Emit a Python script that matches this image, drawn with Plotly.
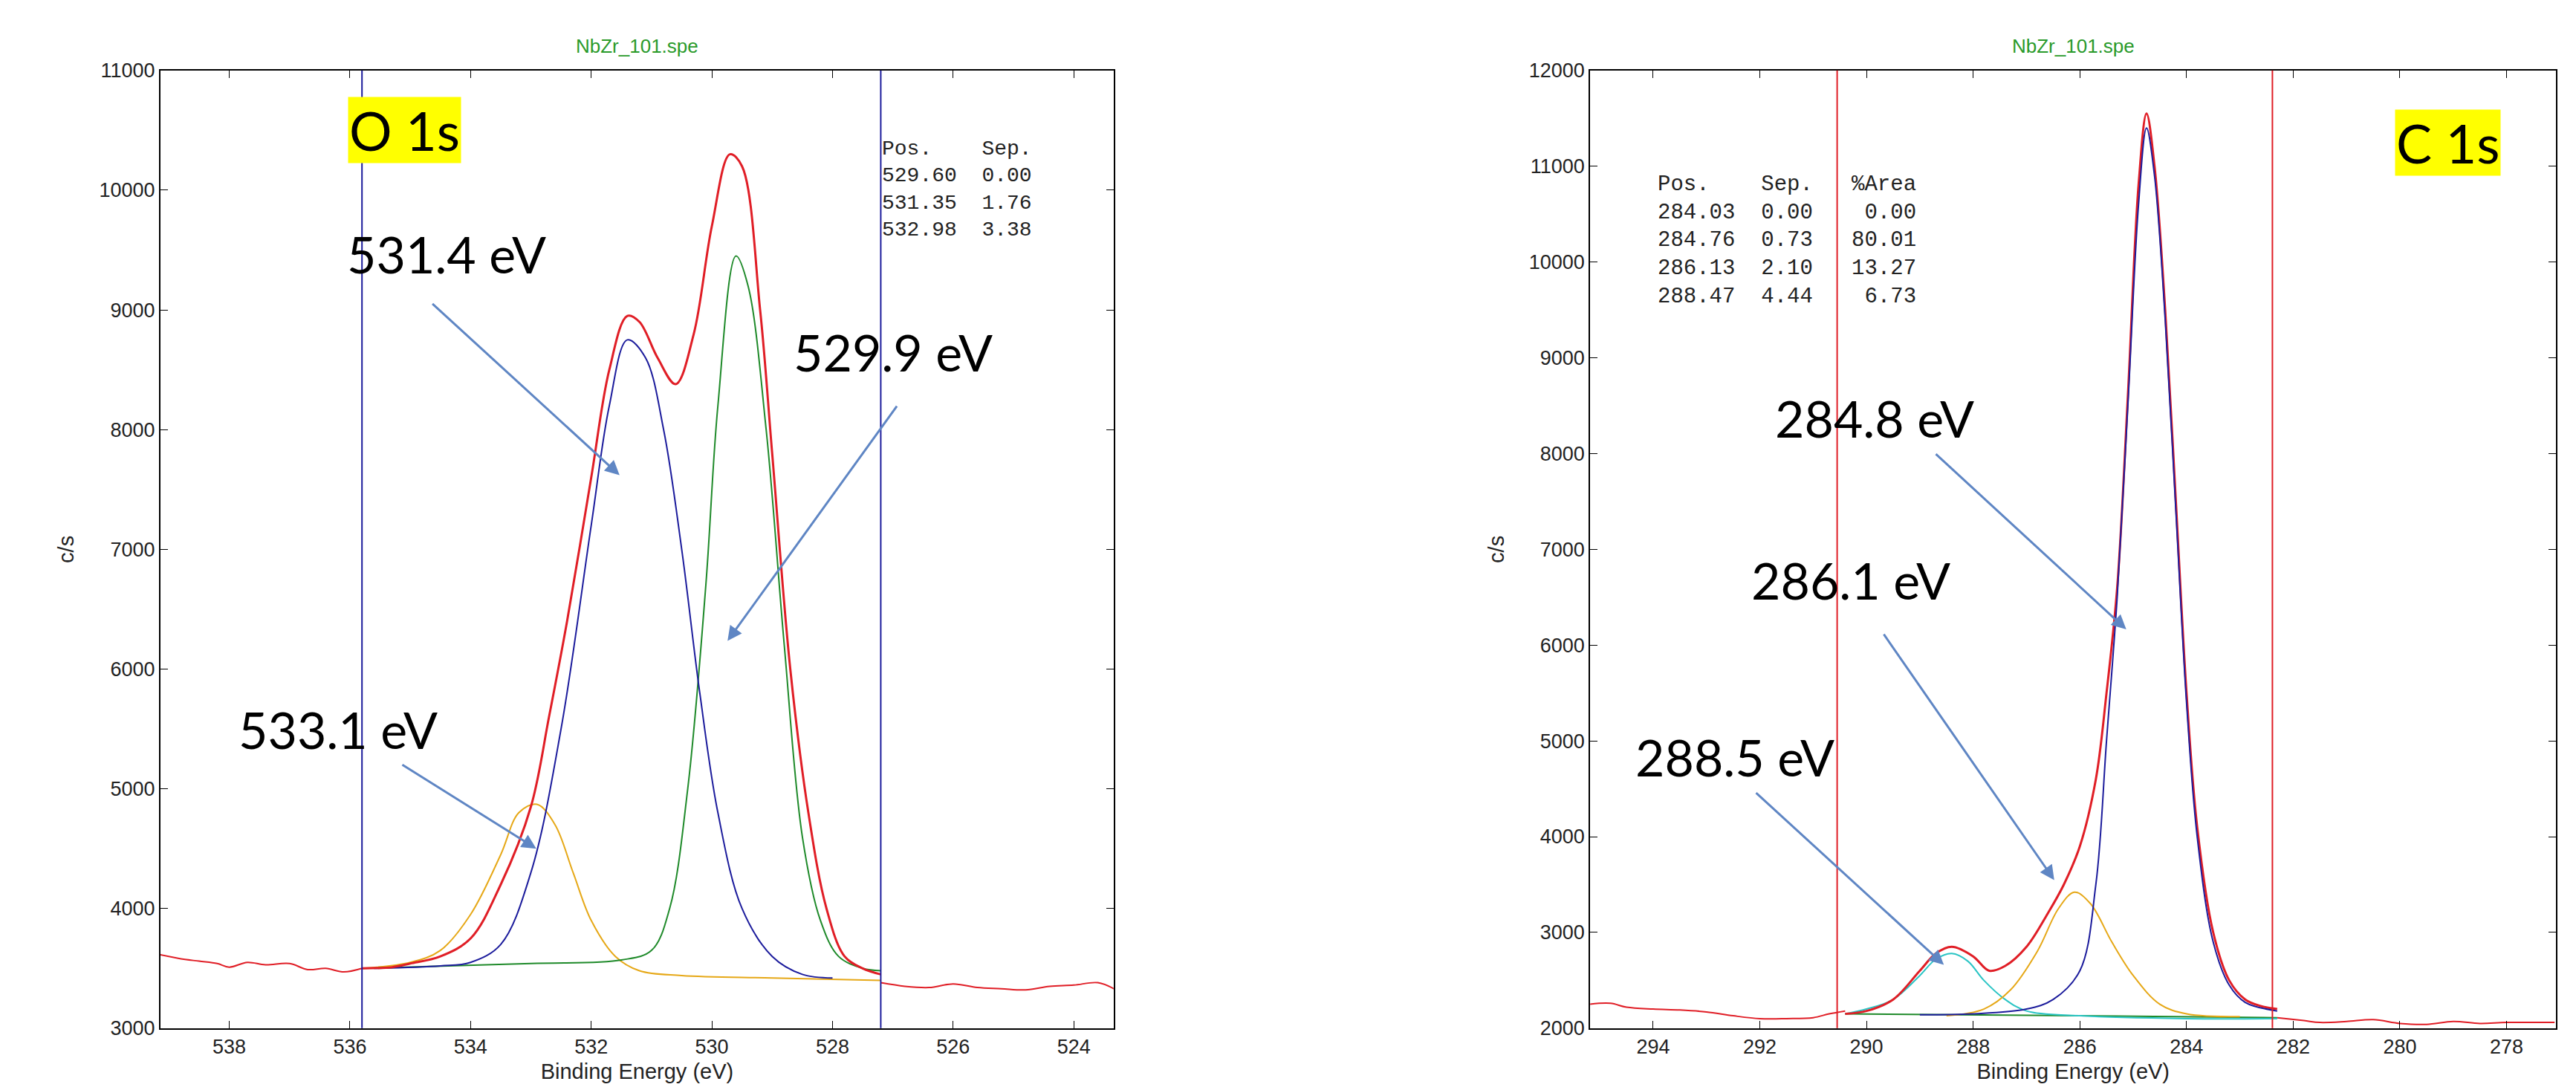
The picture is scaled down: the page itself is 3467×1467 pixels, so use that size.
import plotly.graph_objects as go

# ---------- O 1s (left) ----------
o_raw_left_x = [539.2, 538.8, 538.5, 538.2, 538.0, 537.7, 537.4, 537.0, 536.7, 536.4, 536.1, 535.8]
o_raw_left_y = [3620, 3580, 3560, 3540, 3510, 3550, 3530, 3540, 3490, 3500, 3470, 3500]
o_raw_right_x = [527.2, 526.8, 526.4, 526.0, 525.6, 525.2, 524.8, 524.4, 524.0, 523.6, 523.3]
o_raw_right_y = [3380, 3350, 3340, 3370, 3340, 3330, 3320, 3350, 3360, 3380, 3320]
o_env_x = [535.8, 535.3, 535.0, 534.5, 534.0, 533.5, 533.0, 532.7, 532.4, 532.0, 531.7, 531.4,
           531.2, 530.9, 530.6, 530.3, 530.0, 529.7, 529.5, 529.2, 529.0, 528.7, 528.4, 528.1,
           527.8, 527.5, 527.2]
o_env_y = [3500, 3510, 3540, 3600, 3750, 4200, 4850, 5600, 6400, 7600, 8500, 8950,
           8900, 8600, 8380, 8800, 9700, 10300, 10200, 9000, 7800, 6000, 4800, 4000,
           3600, 3500, 3450]
o_comp1_x = [535.6, 534.5, 534.0, 533.5, 533.0, 532.5, 532.0, 531.7, 531.4, 531.1, 530.8, 530.5,
             530.2, 529.9, 529.5, 529.0, 528.5, 528.0]
o_comp1_y = [3500, 3520, 3550, 3700, 4300, 5500, 7200, 8200, 8750, 8600, 8000, 7000,
             5800, 4800, 4000, 3600, 3450, 3420]
o_comp2_x = [535.8, 533.0, 531.5, 531.0, 530.7, 530.4, 530.1, 529.9, 529.6, 529.4, 529.1, 528.8,
             528.5, 528.2, 527.9, 527.5, 527.2]
o_comp2_y = [3500, 3540, 3570, 3650, 4000, 5000, 6700, 8200, 9450, 9200, 8000, 6200,
             4600, 3900, 3600, 3500, 3480]
o_comp3_x = [535.8, 535.0, 534.5, 534.0, 533.5, 533.2, 532.9, 532.6, 532.3, 532.0, 531.6, 531.2,
             530.5, 529.0, 527.2]
o_comp3_y = [3500, 3550, 3650, 3950, 4450, 4800, 4870, 4700, 4300, 3900, 3600, 3480,
             3440, 3420, 3400]
o_lines = [535.8, 527.2]
o_labels = ["531.4 eV", "529.9 eV", "533.1 eV"]
o_label_pos = [(534.4, 9470), (527.0, 8650), (536.2, 5500)]
o_arrow_tail = [(534.65, 9060), (526.92, 8206), (535.15, 5206)]
o_arrow_head = [(531.53, 7620), (529.74, 6235), (532.91, 4500)]
o_table = "Pos.    Sep.  <br>529.60  0.00<br>531.35  1.76<br>532.98  3.38"

# ---------- C 1s (right) ----------
c_raw_left_x = [295.2, 294.8, 294.5, 294.0, 293.5, 293.0, 292.5, 292.0, 291.5, 291.0, 290.7, 290.4]
c_raw_left_y = [2250, 2260, 2220, 2200, 2190, 2170, 2130, 2100, 2100, 2110, 2150, 2180]
c_raw_right_x = [282.3, 281.8, 281.5, 281.0, 280.5, 280.0, 279.5, 279.0, 278.5, 278.0, 277.1]
c_raw_right_y = [2110, 2080, 2060, 2070, 2090, 2050, 2040, 2070, 2050, 2060, 2060]
c_env_x = [290.4, 290.0, 289.5, 289.0, 288.7, 288.4, 288.0, 287.7, 287.4, 287.0, 286.6, 286.3,
           286.0, 285.7, 285.5, 285.3, 285.1, 284.9, 284.75, 284.6, 284.4, 284.2, 284.0, 283.8,
           283.5, 283.2, 282.9, 282.6, 282.3]
c_env_y = [2150, 2180, 2300, 2600, 2780, 2850, 2750, 2600, 2650, 2850, 3200, 3500,
           3900, 4600, 5500, 6600, 8600, 10800, 11550, 11000, 9500, 7500, 5500, 4100,
           3000, 2500, 2300, 2230, 2200]
c_comp1_x = [289.0, 288.0, 287.0, 286.5, 286.0, 285.7, 285.5, 285.3, 285.1, 284.9, 284.75, 284.6,
             284.4, 284.2, 284.0, 283.8, 283.5, 283.2, 282.9, 282.3]
c_comp1_y = [2140, 2150, 2200, 2300, 2600, 3500, 5000, 6500, 8500, 10600, 11400, 10900,
             9400, 7400, 5400, 4000, 2900, 2450, 2270, 2180]
c_comp2_x = [288.5, 287.8, 287.3, 286.8, 286.4, 286.1, 285.8, 285.4, 285.0, 284.5, 284.0, 283.0]
c_comp2_y = [2130, 2200, 2400, 2800, 3250, 3420, 3300, 2900, 2550, 2250, 2150, 2120]
c_comp3_x = [290.4, 290.0, 289.5, 289.0, 288.7, 288.4, 288.1, 287.8, 287.4, 287.0, 286.0, 284.0, 282.3]
c_comp3_y = [2150, 2200, 2300, 2550, 2720, 2780, 2700, 2500, 2300, 2180, 2130, 2100, 2100]
c_base_x = [290.4, 286.0, 282.3]
c_base_y = [2150, 2130, 2110]
c_lines = [290.55, 282.39]
c_labels = ["284.8 eV", "286.1 eV", "288.5 eV"]
c_label_pos = [(289.85, 8374), (290.3, 6680), (292.47, 4837)]
c_arrow_tail = [(288.72, 8006), (289.69, 6125), (292.09, 4468)]
c_arrow_head = [(285.13, 6164), (286.48, 3547), (288.55, 2663)]
c_table = ("Pos.    Sep.   %Area<br>284.03  0.00    0.00<br>284.76  0.73   80.01"
           "<br>286.13  2.10   13.27<br>288.47  4.44    6.73")

RED = "#e01e26"
BLUE = "#1c1c9c"
GREEN = "#1f8a2a"
ORANGE = "#e6a817"
CYAN = "#29c4c4"
ARROW = "#5f86c4"

fig = go.Figure()


def linea(x, y, color, xa, ya, width=2):
    fig.add_trace(go.Scatter(x=x, y=y, mode="lines", line=dict(color=color, width=width, shape="spline"),
                             xaxis=xa, yaxis=ya, showlegend=False, hoverinfo="skip"))


linea(o_raw_left_x, o_raw_left_y, RED, "x", "y")
linea(o_raw_right_x, o_raw_right_y, RED, "x", "y")
linea(o_comp3_x, o_comp3_y, ORANGE, "x", "y")
linea(o_comp2_x, o_comp2_y, GREEN, "x", "y")
linea(o_comp1_x, o_comp1_y, BLUE, "x", "y")
linea(o_env_x, o_env_y, RED, "x", "y", 3)

linea(c_raw_left_x, c_raw_left_y, RED, "x2", "y2")
linea(c_raw_right_x, c_raw_right_y, RED, "x2", "y2")
linea(c_base_x, c_base_y, GREEN, "x2", "y2")
linea(c_comp3_x, c_comp3_y, CYAN, "x2", "y2")
linea(c_comp2_x, c_comp2_y, ORANGE, "x2", "y2")
linea(c_env_x, c_env_y, RED, "x2", "y2", 3)
linea(c_comp1_x, c_comp1_y, BLUE, "x2", "y2")

shapes = []
for v in o_lines:
    shapes.append(dict(type="line", xref="x", yref="y domain", x0=v, x1=v, y0=0, y1=1,
                       line=dict(color=BLUE, width=2)))
for v in c_lines:
    shapes.append(dict(type="line", xref="x2", yref="y2 domain", x0=v, x1=v, y0=0, y1=1,
                       line=dict(color=RED, width=2)))

annotations = []
for xa, ya, labels, pos, tails, heads in [
    ("x", "y", o_labels, o_label_pos, o_arrow_tail, o_arrow_head),
    ("x2", "y2", c_labels, c_label_pos, c_arrow_tail, c_arrow_head),
]:
    for texto, (px, py) in zip(labels, pos):
        annotations.append(dict(xref=xa, yref=ya, x=px, y=py, text=texto, showarrow=False,
                                font=dict(family="Lato", size=68, color="black")))
    for (tx, ty), (hx, hy) in zip(tails, heads):
        annotations.append(dict(xref=xa, yref=ya, x=hx, y=hy, ax=tx, ay=ty, axref=xa, ayref=ya,
                                text="", showarrow=True, arrowhead=2, arrowsize=1.3,
                                arrowwidth=3, arrowcolor=ARROW))

annotations += [
    dict(xref="x", yref="y", x=535.1, y=10500, text="O 1s", showarrow=False, bgcolor="#ffff00",
         font=dict(family="Lato", size=72, color="black")),
    dict(xref="x2", yref="y2", x=279.1, y=11250, text="C 1s", showarrow=False, bgcolor="#ffff00",
         font=dict(family="Lato", size=72, color="black")),
    dict(xref="x", yref="y", x=527.2, y=10450, text=o_table, showarrow=False, xanchor="left",
         yanchor="top", align="left", font=dict(family="Liberation Mono", size=28, color="#222")),
    dict(xref="x2", yref="y2", x=293.95, y=10950, text=c_table, showarrow=False, xanchor="left",
         yanchor="top", align="left", font=dict(family="Liberation Mono", size=29, color="#222")),
    dict(xref="x domain", yref="paper", x=0.5, y=0.985, text="NbZr_101.spe", showarrow=False,
         font=dict(family="Liberation Sans", size=26, color="#2a9a2a")),
    dict(xref="x2 domain", yref="paper", x=0.5, y=0.985, text="NbZr_101.spe", showarrow=False,
         font=dict(family="Liberation Sans", size=26, color="#2a9a2a")),
]

eje = dict(showline=True, linecolor="black", linewidth=2, mirror="ticks", ticks="inside",
           ticklen=10, tickcolor="black", showgrid=False, zeroline=False, tickformat="d",
           tickfont=dict(family="Liberation Sans", size=27, color="#222"),
           title_font=dict(family="Liberation Sans", size=29, color="#222"))

fig.update_layout(
    width=3467, height=1467, margin=dict(l=0, r=0, t=0, b=0),
    paper_bgcolor="white", plot_bgcolor="white",
    xaxis=dict(eje, domain=[0.060, 0.430], range=[539.14, 523.34], dtick=2, anchor="y",
               title=dict(text="Binding Energy (eV)", standoff=8)),
    yaxis=dict(eje, domain=[0.053, 0.950], range=[3000, 11000], dtick=1000, anchor="x",
               title=dict(text="c/s", standoff=25)),
    xaxis2=dict(eje, domain=[0.615, 0.990], range=[295.18, 277.07], dtick=2, anchor="y2",
                title=dict(text="Binding Energy (eV)", standoff=8)),
    yaxis2=dict(eje, domain=[0.053, 0.950], range=[2000, 12000], dtick=1000, anchor="x2",
                title=dict(text="c/s", standoff=25)),
    shapes=shapes, annotations=annotations,
)

fig.write_html("out.html")
